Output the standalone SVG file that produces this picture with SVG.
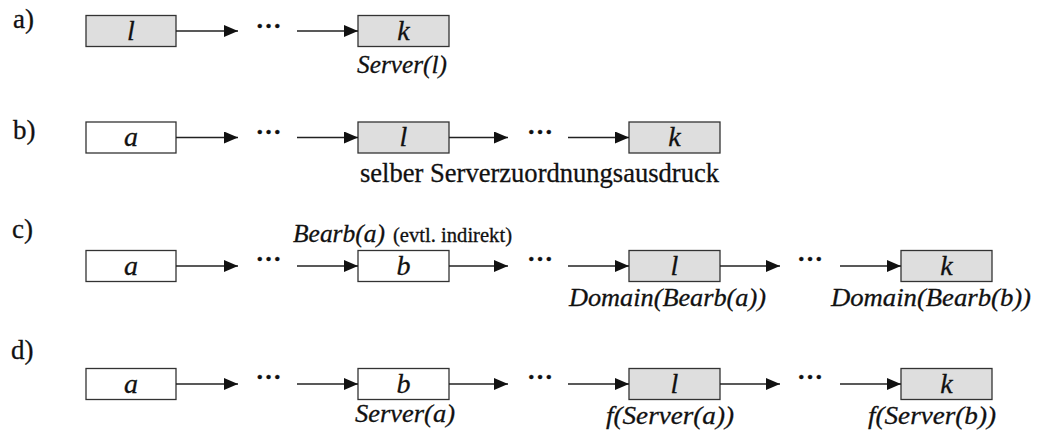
<svg xmlns="http://www.w3.org/2000/svg" width="1038" height="432" viewBox="0 0 1038 432">
<style>
  text { font-family: "Liberation Serif", Tinos, "Times New Roman", Times, "DejaVu Serif", serif; fill: #111; stroke: #111; stroke-width: 0.3; }
  .row { font-size: 27px; }
  .it { font-style: italic; font-size: 26px; }
  .node { font-style: italic; font-size: 28px; text-anchor: middle; }
  .dots { font-size: 26px; font-weight: bold; text-anchor: middle; }
  .small { font-size: 20px; }
  .gray rect { fill: #dedede; stroke: #333; stroke-width: 1.3; }
  .white rect { fill: #ffffff; stroke: #333; stroke-width: 1.3; }
  .conn line { stroke: #222; stroke-width: 1.3; }
</style>
<defs>
  <marker id="ah" markerUnits="userSpaceOnUse" markerWidth="14" markerHeight="12" refX="14" refY="6" orient="auto">
    <path d="M0,0 L14,6 L0,12 Z" fill="#111"/>
  </marker>
</defs>
<rect width="1038" height="432" fill="#ffffff"/>

<!-- Row labels -->
<text class="row" x="13" y="28">a)</text>
<text class="row" x="13" y="139">b)</text>
<text class="row" x="12" y="238">c)</text>
<text class="row" x="11" y="359">d)</text>

<!-- Row a -->
<g id="a-l" class="gray"><rect x="86" y="15.5" width="90" height="31"/><text class="node" x="131" y="39.5">l</text></g>
<g id="a-k" class="gray"><rect x="358" y="15.5" width="91" height="31"/><text class="node" x="403.5" y="39.5">k</text></g>

<!-- Row b -->
<g id="b-a" class="white"><rect x="86" y="122" width="90" height="31"/><text class="node" x="131" y="146">a</text></g>
<g id="b-l" class="gray"><rect x="358" y="122" width="91" height="31"/><text class="node" x="403.5" y="146">l</text></g>
<g id="b-k" class="gray"><rect x="629" y="122" width="91" height="31"/><text class="node" x="674.5" y="146">k</text></g>

<!-- Row c -->
<g id="c-a" class="white"><rect x="86" y="250.5" width="90" height="31"/><text class="node" x="131" y="274.5">a</text></g>
<g id="c-b" class="white"><rect x="358" y="250.5" width="91" height="31"/><text class="node" x="403.5" y="274.5">b</text></g>
<g id="c-l" class="gray"><rect x="629" y="250.5" width="91" height="31"/><text class="node" x="674.5" y="274.5">l</text></g>
<g id="c-k" class="gray"><rect x="901" y="250.5" width="91" height="31"/><text class="node" x="946.5" y="274.5">k</text></g>

<!-- Row d -->
<g id="d-a" class="white"><rect x="86" y="368.5" width="90" height="31"/><text class="node" x="131" y="392.5">a</text></g>
<g id="d-b" class="white"><rect x="358" y="368.5" width="91" height="31"/><text class="node" x="403.5" y="392.5">b</text></g>
<g id="d-l" class="gray"><rect x="629" y="368.5" width="91" height="31"/><text class="node" x="674.5" y="392.5">l</text></g>
<g id="d-k" class="gray"><rect x="901" y="368.5" width="91" height="31"/><text class="node" x="946.5" y="392.5">k</text></g>

<!-- Connectors -->
<g id="connectors" class="conn">
  <line x1="176" y1="31" x2="238" y2="31" marker-end="url(#ah)"/>
  <line x1="297" y1="31" x2="358" y2="31" marker-end="url(#ah)"/>

  <line x1="176" y1="137.5" x2="238" y2="137.5" marker-end="url(#ah)"/>
  <line x1="297" y1="137.5" x2="358" y2="137.5" marker-end="url(#ah)"/>
  <line x1="449" y1="137.5" x2="508" y2="137.5" marker-end="url(#ah)"/>
  <line x1="568" y1="137.5" x2="629" y2="137.5" marker-end="url(#ah)"/>

  <line x1="176" y1="266" x2="238" y2="266" marker-end="url(#ah)"/>
  <line x1="297" y1="266" x2="358" y2="266" marker-end="url(#ah)"/>
  <line x1="449" y1="266" x2="508" y2="266" marker-end="url(#ah)"/>
  <line x1="568" y1="266" x2="629" y2="266" marker-end="url(#ah)"/>
  <line x1="720" y1="266" x2="780" y2="266" marker-end="url(#ah)"/>
  <line x1="840" y1="266" x2="901" y2="266" marker-end="url(#ah)"/>

  <line x1="176" y1="384" x2="238" y2="384" marker-end="url(#ah)"/>
  <line x1="297" y1="384" x2="358" y2="384" marker-end="url(#ah)"/>
  <line x1="449" y1="384" x2="508" y2="384" marker-end="url(#ah)"/>
  <line x1="568" y1="384" x2="629" y2="384" marker-end="url(#ah)"/>
  <line x1="720" y1="384" x2="780" y2="384" marker-end="url(#ah)"/>
  <line x1="840" y1="384" x2="901" y2="384" marker-end="url(#ah)"/>
</g>

<!-- Dots -->
<text class="dots" x="268.5" y="28">…</text>
<text class="dots" x="268.5" y="134">…</text>
<text class="dots" x="540" y="134">…</text>
<text class="dots" x="268.5" y="261">…</text>
<text class="dots" x="540" y="261">…</text>
<text class="dots" x="810" y="261">…</text>
<text class="dots" x="268.5" y="379">…</text>
<text class="dots" x="540" y="379">…</text>
<text class="dots" x="810" y="379">…</text>

<!-- Annotations -->
<text class="it" x="357" y="73" textLength="90" lengthAdjust="spacingAndGlyphs">Server(l)</text>
<text x="360" y="182" font-size="28" textLength="359" lengthAdjust="spacingAndGlyphs">selber Serverzuordnungsausdruck</text>
<text class="it" x="293" y="242" textLength="92" lengthAdjust="spacingAndGlyphs">Bearb(a)</text>
<text class="small" x="393" y="242" textLength="119" lengthAdjust="spacingAndGlyphs">(evtl. indirekt)</text>
<text class="it" x="569" y="306" textLength="197" lengthAdjust="spacingAndGlyphs">Domain(Bearb(a))</text>
<text class="it" x="831" y="306" textLength="200" lengthAdjust="spacingAndGlyphs">Domain(Bearb(b))</text>
<text class="it" x="355" y="422" textLength="100" lengthAdjust="spacingAndGlyphs">Server(a)</text>
<text class="it" x="606" y="424" textLength="128" lengthAdjust="spacingAndGlyphs">f(Server(a))</text>
<text class="it" x="868" y="424" textLength="128" lengthAdjust="spacingAndGlyphs">f(Server(b))</text>
</svg>
